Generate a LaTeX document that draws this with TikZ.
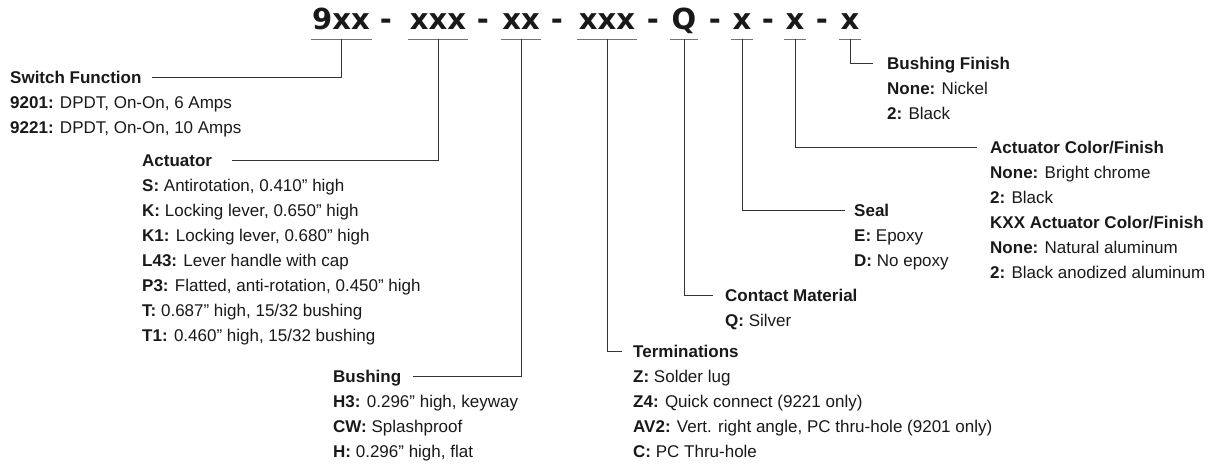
\documentclass[tikz,border=0pt]{standalone}
\usepackage{fontspec}
\setmainfont{Liberation Sans}
\newfontfamily\codefont{DejaVu Sans}
\tikzset{
  part/.style={font=\codefont\bfseries\fontsize{29}{29}\selectfont, anchor=base, inner xsep=1.5pt, inner ysep=0pt, text depth=10pt},
  head/.style={font=\fontsize{17}{25}\selectfont\bfseries, anchor=base west, inner sep=0pt, text height=12pt, text depth=0pt},
  item/.style={anchor=base west, inner sep=0pt},
  lead/.style={draw=black!80, line width=0.9pt},
  uline/.style={draw=black!55, line width=1.3pt}
}
\begin{document}
\begin{tikzpicture}[x=1pt, y=-1pt, font=\fontsize{17}{25}\selectfont, text=black!90]
\useasboundingbox (0,0) rectangle (1222,464);
%part number
\node[part] (pfunc) at (341,29) {9xx};
\node[part] (pact) at (438,29) {xxx};
\node[part] (pbush) at (521,29) {xx};
\node[part] (pterm) at (607,29) {xxx};
\node[part] (pcont) at (684,29) {Q};
\node[part] (pseal) at (742,29) {x};
\node[part] (pcolor) at (795,29) {x};
\node[part] (pfinish) at (850,29) {x};
\foreach \x [count=\i] in {386,483,557,653,715,768,822}
\node[part] (dash\i) at (\x,29) {-};
\foreach \p in {pfunc,pact,pbush,pterm,pcont,pseal,pcolor,pfinish}
\draw[uline] (\p.south west) -- (\p.south east);
%headings
\node[head] (func) at (10,83) {Switch Function};
\node[head] (act) at (142,166) {Actuator};
\node[head] (bush) at (333,382) {Bushing};
\node[head] (term) at (633,357) {Terminations};
\node[head] (cont) at (725,301) {Contact Material};
\node[head] (seal) at (854,216) {Seal};
\node[head] (color) at (990,153) {Actuator Color/Finish};
\node[head] (finish) at (887,69) {Bushing Finish};
%leaders
\draw[lead] (pfunc.south) |- ([xshift=10pt]func.east);
\draw[lead] (pact.south) |- ([xshift=20pt]act.east);
\draw[lead] (pbush.south) |- ([xshift=12pt]bush.east);
\draw[lead] (pterm.south) |- ([xshift=-11pt]term.west);
\draw[lead] (pcont.south) |- ([xshift=-12pt]cont.west);
\draw[lead] (pseal.south) |- ([xshift=-9pt]seal.west);
\draw[lead] (pcolor.south) |- ([xshift=-13pt]color.west);
\draw[lead] (pfinish.south) |- ([xshift=-14pt]finish.west);
%options
\foreach \t [count=\i] in {{\textbf{9201:} DPDT, On-On, 6 Amps},{\textbf{9221:} DPDT, On-On, 10 Amps}}
\node[item] (func\i) at ([yshift={-25pt*\i}]func.base west) {\t};
\foreach \t [count=\i] in {{\textbf{S:} Antirotation, 0.410” high},{\textbf{K:} Locking lever, 0.650” high},
  {\textbf{K1:} Locking lever, 0.680” high},{\textbf{L43:} Lever handle with cap},
  {\textbf{P3:} Flatted, anti-rotation, 0.450” high},{\textbf{T:} 0.687” high, 15/32 bushing},
  {\textbf{T1:} 0.460” high, 15/32 bushing}}
\node[item] (act\i) at ([yshift={-25pt*\i}]act.base west) {\t};
\foreach \t [count=\i] in {{\textbf{H3:} 0.296” high, keyway},{\textbf{CW:} Splashproof},{\textbf{H:} 0.296” high, flat}}
\node[item] (bush\i) at ([yshift={-25pt*\i}]bush.base west) {\t};
\foreach \t [count=\i] in {{\textbf{Z:} Solder lug},{\textbf{Z4:} Quick connect (9221 only)},
  {\textbf{AV2:} Vert. right angle, PC thru-hole (9201 only)},{\textbf{C:} PC Thru-hole}}
\node[item] (term\i) at ([yshift={-25pt*\i}]term.base west) {\t};
\node[item] (cont1) at ([yshift=-25pt]cont.base west) {\textbf{Q:} Silver};
\foreach \t [count=\i] in {{\textbf{E:} Epoxy},{\textbf{D:} No epoxy}}
\node[item] (seal\i) at ([yshift={-25pt*\i}]seal.base west) {\t};
\foreach \t [count=\i] in {{\textbf{None:} Bright chrome},{\textbf{2:} Black},{\textbf{KXX Actuator Color/Finish}},
  {\textbf{None:} Natural aluminum},{\textbf{2:} Black anodized aluminum}}
\node[item] (color\i) at ([yshift={-25pt*\i}]color.base west) {\t};
\foreach \t [count=\i] in {{\textbf{None:} Nickel},{\textbf{2:} Black}}
\node[item] (finish\i) at ([yshift={-25pt*\i}]finish.base west) {\t};
\end{tikzpicture}
\end{document}
